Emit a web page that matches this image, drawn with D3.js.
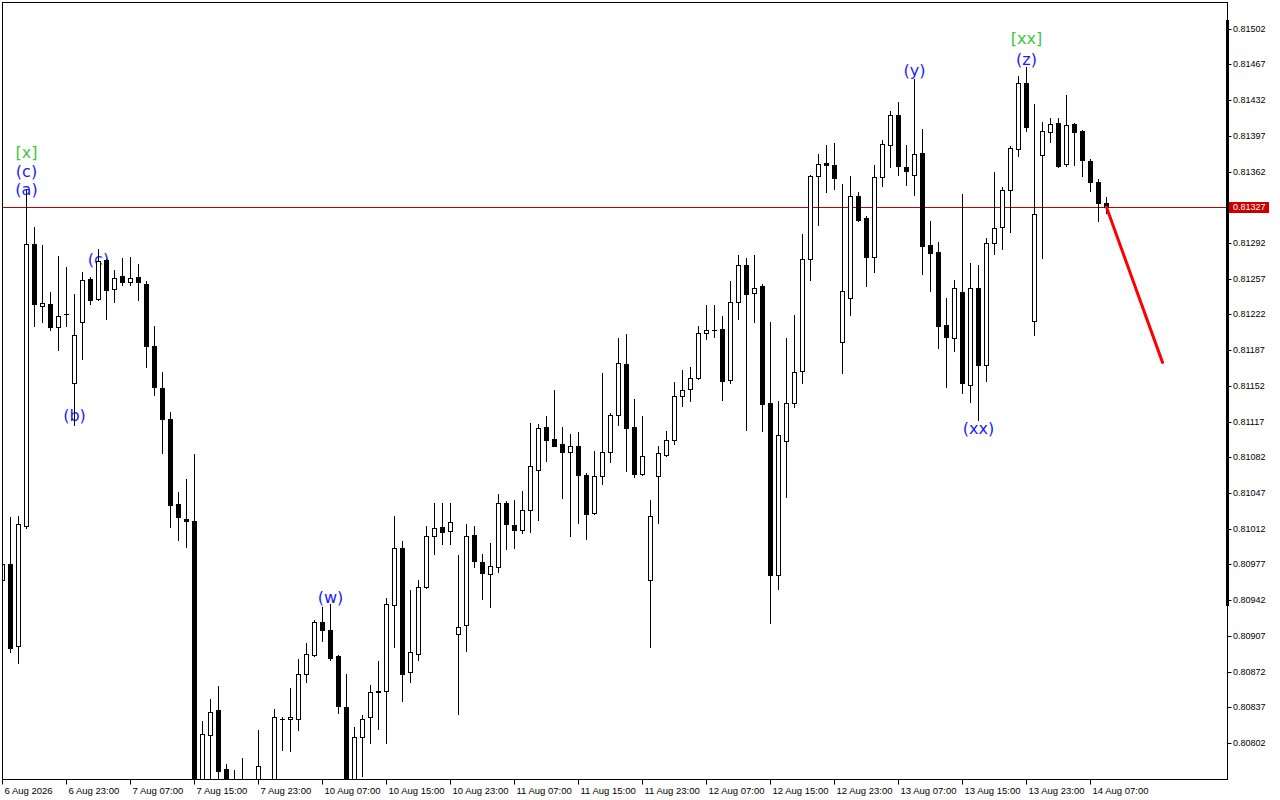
<!DOCTYPE html>
<html><head><meta charset="utf-8">
<script src="https://cdn.jsdelivr.net/npm/d3@7"></script>
<style>html,body{margin:0;padding:0;background:#fff;}svg{display:block;}</style>
</head><body>
<svg id="chart" width="1280" height="800"></svg>
<script>
// ---- data (hourly candles) ----
const opens = [0.80962,0.80977,0.80897,0.81015,0.81291,0.81230,0.81232,0.81210,0.81222,0.81155,
0.81215,0.81257,0.81237,0.81275,0.81247,0.81260,0.81254,0.81259,0.81252,0.81191,
0.81150,0.81120,0.81036,0.81022,0.81020,0.80724,0.80810,0.80834,0.80777,0.80745,
0.80750,0.80740,0.80745,0.80760,0.80755,0.80826,0.80826,0.80826,0.80870,0.80888,
0.80921,0.80913,0.80887,0.80837,0.80752,0.80808,0.80827,0.80852,0.80853,0.80937,
0.80993,0.80872,0.80889,0.80955,0.81005,0.81014,0.81010,0.80909,0.80918,0.81006,
0.80979,0.80968,0.80974,0.81037,0.81016,0.81011,0.81030,0.81070,0.81112,0.81100,
0.81095,0.81087,0.81093,0.81065,0.81027,0.81064,0.81087,0.81123,0.81173,0.81112,
0.81066,0.80962,0.81064,0.81084,0.81099,0.81142,0.81149,0.81160,0.81204,0.81207,
0.81208,0.81158,0.81234,0.81270,0.81243,0.81250,0.81135,0.80967,0.81098,0.81135,
0.81167,0.81276,0.81358,0.81370,0.81368,0.81195,0.81238,0.81338,0.81316,0.81278,
0.81357,0.81388,0.81417,0.81366,0.81359,0.81380,0.81290,0.81283,0.81212,0.81199,
0.81244,0.81153,0.81248,0.81172,0.81292,0.81308,0.81344,0.81384,0.81449,0.81216,
0.81378,0.81401,0.81410,0.81369,0.81409,0.81402,0.81372,0.81352,0.81331];
const highs = [0.80980,0.81023,0.81024,0.81344,0.81308,0.81290,0.81244,0.81279,0.81268,0.81242,
0.81264,0.81259,0.81286,0.81276,0.81266,0.81277,0.81278,0.81271,0.81255,0.81211,
0.81166,0.81126,0.81048,0.81061,0.81085,0.80824,0.80845,0.80858,0.80781,0.80776,
0.80787,0.80762,0.80815,0.80765,0.80835,0.80827,0.80856,0.80884,0.80900,0.80923,
0.80935,0.80938,0.80888,0.80870,0.80818,0.80829,0.80859,0.80882,0.80944,0.81024,
0.81000,0.80952,0.80962,0.81015,0.81037,0.81037,0.81037,0.80986,0.81017,0.81015,
0.80987,0.80998,0.81046,0.81039,0.81040,0.81049,0.81116,0.81115,0.81122,0.81148,
0.81112,0.81105,0.81107,0.81067,0.81088,0.81165,0.81125,0.81199,0.81203,0.81139,
0.81122,0.81040,0.81093,0.81108,0.81156,0.81168,0.81170,0.81211,0.81231,0.81231,
0.81220,0.81255,0.81280,0.81277,0.81280,0.81252,0.81215,0.81137,0.81199,0.81221,
0.81301,0.81359,0.81379,0.81388,0.81390,0.81350,0.81358,0.81342,0.81318,0.81368,
0.81393,0.81421,0.81430,0.81388,0.81453,0.81404,0.81314,0.81293,0.81238,0.81256,
0.81340,0.81272,0.81270,0.81297,0.81362,0.81347,0.81387,0.81456,0.81464,0.81428,
0.81411,0.81414,0.81414,0.81437,0.81410,0.81403,0.81374,0.81355,0.81337];
const lows = [0.80958,0.80891,0.80880,0.81013,0.81211,0.81215,0.81207,0.81187,0.81211,0.81114,
0.81178,0.81232,0.81236,0.81218,0.81234,0.81251,0.81251,0.81236,0.81170,0.81143,
0.81086,0.81014,0.81001,0.80994,0.80700,0.80712,0.80750,0.80758,0.80735,0.80725,
0.80730,0.80720,0.80735,0.80730,0.80745,0.80795,0.80794,0.80815,0.80862,0.80887,
0.80902,0.80883,0.80831,0.80740,0.80742,0.80770,0.80802,0.80816,0.80802,0.80896,
0.80843,0.80862,0.80883,0.80954,0.80987,0.80997,0.80997,0.80830,0.80892,0.80974,
0.80943,0.80935,0.80970,0.80992,0.80993,0.81008,0.81009,0.81021,0.81078,0.81093,
0.81042,0.81005,0.81018,0.81002,0.81026,0.81056,0.81077,0.81114,0.81069,0.81063,
0.81065,0.80896,0.81018,0.81083,0.81095,0.81132,0.81137,0.81159,0.81198,0.81200,
0.81138,0.81155,0.81218,0.81109,0.81215,0.81108,0.80920,0.80953,0.81043,0.81131,
0.81155,0.81256,0.81310,0.81342,0.81345,0.81165,0.81221,0.81314,0.81250,0.81264,
0.81348,0.81366,0.81359,0.81349,0.81339,0.81262,0.81245,0.81189,0.81151,0.81186,
0.81145,0.81136,0.81119,0.81157,0.81281,0.81286,0.81303,0.81377,0.81402,0.81202,
0.81277,0.81391,0.81366,0.81367,0.81368,0.81358,0.81343,0.81314,0.81321];
const closes = [0.80977,0.80895,0.81017,0.81291,0.81232,0.81233,0.81210,0.81220,0.81222,0.81202,
0.81256,0.81236,0.81274,0.81246,0.81258,0.81254,0.81258,0.81254,0.81191,0.81151,
0.81120,0.81035,0.81023,0.81020,0.80722,0.80811,0.80832,0.80775,0.80745,0.80750,
0.80740,0.80745,0.80779,0.80750,0.80827,0.80826,0.80827,0.80870,0.80889,0.80921,
0.80913,0.80885,0.80838,0.80752,0.80808,0.80826,0.80852,0.80853,0.80938,0.80993,
0.80870,0.80891,0.80955,0.81005,0.81013,0.81009,0.81019,0.80916,0.81005,0.80980,
0.80969,0.80975,0.81037,0.81017,0.81011,0.81030,0.81073,0.81111,0.81099,0.81093,
0.81087,0.81093,0.81065,0.81026,0.81064,0.81087,0.81123,0.81174,0.81111,0.81066,
0.81083,0.81024,0.81086,0.81099,0.81142,0.81148,0.81160,0.81204,0.81207,0.81207,
0.81157,0.81234,0.81270,0.81242,0.81248,0.81134,0.80967,0.81104,0.81135,0.81166,
0.81276,0.81358,0.81369,0.81368,0.81356,0.81245,0.81338,0.81315,0.81278,0.81357,
0.81389,0.81417,0.81367,0.81363,0.81379,0.81289,0.81282,0.81211,0.81200,0.81248,
0.81155,0.81248,0.81172,0.81292,0.81307,0.81344,0.81385,0.81449,0.81406,0.81320,
0.81402,0.81409,0.81367,0.81408,0.81401,0.81373,0.81352,0.81331,0.81327];

const xTickIdx = [0,8,16,24,32,40,48,56,64,72,80,88,96,104,112,120,128,136];
const xTickLabels = ["6 Aug 2026","6 Aug 23:00","7 Aug 07:00","7 Aug 15:00","7 Aug 23:00",
"10 Aug 07:00","10 Aug 15:00","10 Aug 23:00","11 Aug 07:00","11 Aug 15:00","11 Aug 23:00",
"12 Aug 07:00","12 Aug 15:00","12 Aug 23:00","13 Aug 07:00","13 Aug 15:00","13 Aug 23:00","14 Aug 07:00"];
const yTicks = [0.80802,0.80837,0.80872,0.80907,0.80942,0.80977,0.81012,0.81047,0.81082,0.81117,
0.81152,0.81187,0.81222,0.81257,0.81292,0.81327,0.81362,0.81397,0.81432,0.81467,0.81502];
const bidPrice = 0.81327;
const forecastIdx = [138, 145];
const forecastPrice = [0.81327, 0.81175];
const waveText  = ["[x]","(c)","(a)","(b)","(c)","(w)","(y)","[xx]","(z)","(xx)"];
const waveIdx   = [3, 3, 3, 9, 12, 41, 114, 128, 128, 122];
const wavePrice = [0.81381,0.81362,0.81344,0.81123,0.81276,0.80945,0.81461,0.81492,0.81472,0.81110];
const waveGreen = [true,false,false,false,false,false,false,true,false,false];

// ---- layout ----
const L = 2, R = 1227, T = 2, B = 779;
const svg = d3.select("#chart");
const x = d3.scaleLinear().domain([0, 145]).range([2, 1162]);
const y = d3.scaleLinear().domain([0.80802, 0.81502]).range([743, 28.7]);
const py = v => Math.round(y(v)) + 0.5;
const px = i => Math.round(x(i)) + 0.5;

svg.append("rect").attr("width",1280).attr("height",800).attr("fill","#fff");
svg.append("clipPath").attr("id","clip").append("rect")
  .attr("x",L+1).attr("y",T+1).attr("width",R-L-1).attr("height",B-T-1);
const plot = svg.append("g").attr("clip-path","url(#clip)");

// wave labels (under the candles)
plot.append("g").selectAll("text").data(waveText).join("text")
  .attr("x",(d,i)=>x(waveIdx[i])+0.5).attr("y",(d,i)=>y(wavePrice[i]))
  .attr("text-anchor","middle").attr("dominant-baseline","central")
  .attr("font-family","DejaVu Sans, Verdana, sans-serif").attr("font-size",16)
  .attr("fill",(d,i)=>waveGreen[i] ? "#3cc83c" : "#1a1aff").text(d=>d);

// bid line
plot.append("line").attr("x1",L).attr("x2",R).attr("y1",py(bidPrice)).attr("y2",py(bidPrice))
  .attr("stroke","#c00000").attr("stroke-width",1);

// candles
const idx = d3.range(opens.length);
const cg = plot.append("g");
cg.selectAll("line.wick").data(idx).join("line").attr("class","wick")
  .attr("x1",px).attr("x2",px)
  .attr("y1",i=>Math.round(y(highs[i]))).attr("y2",i=>Math.round(y(lows[i]))+1)
  .attr("stroke","#000").attr("stroke-width",1);
cg.selectAll("g.body").data(idx).join("g").attr("class","body").each(function(i){
  const g = d3.select(this);
  const yo = Math.round(y(opens[i])), yc = Math.round(y(closes[i]));
  const top = Math.min(yo,yc), bot = Math.max(yo,yc);
  const cx = Math.round(x(i));
  if (bot - top < 1) {
    g.append("line").attr("x1",cx-2).attr("x2",cx+3).attr("y1",top+0.5).attr("y2",top+0.5)
      .attr("stroke","#000").attr("stroke-width",1);
  } else {
    const bull = closes[i] >= opens[i];
    g.append("rect").attr("x",cx-1.5).attr("y",top+0.5).attr("width",4).attr("height",bot-top)
      .attr("fill", bull ? "#fff" : "#000").attr("stroke","#000").attr("stroke-width",1);
  }
});

// forecast line
plot.append("line")
  .attr("x1",x(forecastIdx[0])+0.5).attr("y1",y(forecastPrice[0]))
  .attr("x2",x(forecastIdx[1])+0.5).attr("y2",y(forecastPrice[1]))
  .attr("stroke","#ff0000").attr("stroke-width",3).attr("stroke-linecap","round");

// frame
svg.append("rect").attr("x",L+0.5).attr("y",T+0.5).attr("width",R-L).attr("height",B-T)
  .attr("fill","none").attr("stroke","#000").attr("stroke-width",1);
svg.append("rect").attr("x",R-1).attr("y",20).attr("width",3).attr("height",586).attr("fill","#000");

// y axis (right)
const yAxis = d3.axisRight(y).tickValues(yTicks).tickSize(4).tickFormat(d3.format(".5f"));
const ya = svg.append("g").attr("transform",`translate(${R+0.5},0)`).call(yAxis);
ya.select(".domain").remove();
ya.selectAll(".tick").attr("transform",d=>`translate(0,${py(d)})`);
ya.selectAll(".tick line").attr("stroke","#000");
ya.selectAll(".tick text").attr("x",5.5).attr("dy","0.32em")
  .attr("font-family","Liberation Sans, Arial, sans-serif").attr("font-size",9).attr("fill","#000");

// price label
const bl = svg.append("g").attr("transform",`translate(${R+2},${py(bidPrice)})`);
bl.append("rect").attr("x",0).attr("y",-5.5).attr("width",40).attr("height",11).attr("fill","#cc0000");
bl.append("text").attr("x",4).attr("y",0).attr("dy","0.32em")
  .attr("font-family","Liberation Sans, Arial, sans-serif").attr("font-size",9).attr("fill","#fff")
  .text(d3.format(".5f")(bidPrice));

// x axis (bottom)
const xAxis = d3.axisBottom(x).tickValues(xTickIdx).tickSize(5).tickFormat((d,i)=>xTickLabels[i]);
const xa = svg.append("g").attr("transform",`translate(0,${B+0.5})`).call(xAxis);
xa.select(".domain").remove();
xa.selectAll(".tick").attr("transform",d=>`translate(${px(d)},0)`);
xa.selectAll(".tick line").attr("stroke","#000");
xa.selectAll(".tick text").attr("text-anchor","start").attr("x",2)
  .attr("font-family","Liberation Sans, Arial, sans-serif").attr("font-size",9.5).attr("fill","#000");
</script>
</body></html>
